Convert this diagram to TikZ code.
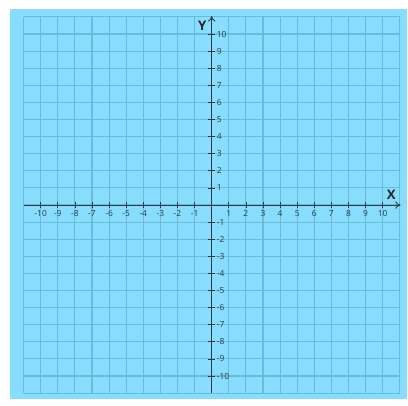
\documentclass[tikz,border=0pt]{standalone}
\usepackage{fontspec}
\setmainfont{Open Sans}
\usetikzlibrary{arrows.meta, positioning}
\definecolor{paper}{HTML}{88DDFF}
\definecolor{gridline}{HTML}{68BCDA}
\definecolor{axisline}{HTML}{2E3A40}
\tikzset{
  gridlines/.style={draw=gridline, line width=0.9pt},
  axis/.style={draw=axisline, line width=0.75pt, -{To[length=1.6mm, width=2.2mm]}},
  tick/.style={draw=axisline, line width=0.6pt},
  ticklbl/.style={font=\fontsize{7}{8}\selectfont, text=axisline, inner sep=1pt},
  axlbl/.style={font=\bfseries\fontsize{11}{12}\selectfont, text=black!85, inner sep=0pt},
}

\begin{document}
\begin{tikzpicture}[x=0.5cm, y=0.5cm]
    \useasboundingbox (-12.38,-11.70) rectangle (11.48,11.99);
    \fill[paper] (-11.81,-11.33) rectangle (11.40,11.48);
    \draw[gridlines, step=0.5cm] (-11,-11) grid (11,11);
    % axes
    \coordinate (xs) at (-11,0);
    \coordinate (xe) at (11.05,0);
    \coordinate (ys) at (0,-11);
    \coordinate (ye) at (0,11.05);
    \draw[axis] (xs) -- (xe);
    \draw[axis] (ys) -- (ye);
    \node[axlbl] (xlbl) at (10.5,0.6) {X};
    \node[axlbl] (ylbl) at (-0.55,10.5) {Y};
    % ticks and numbers
    \foreach \i in {-10,...,-1,1,2,...,10} {
      \draw[tick] (\i,0.2) -- (\i,-0.2);
      \node[ticklbl, anchor=north] (xt\i) at (\i,-0.22) {\i};
      \draw[tick] (-0.2,\i) -- (0.2,\i);
      \node[ticklbl, anchor=west] (yt\i) at (0.22,\i) {\i};
    }
\end{tikzpicture}
\end{document}
